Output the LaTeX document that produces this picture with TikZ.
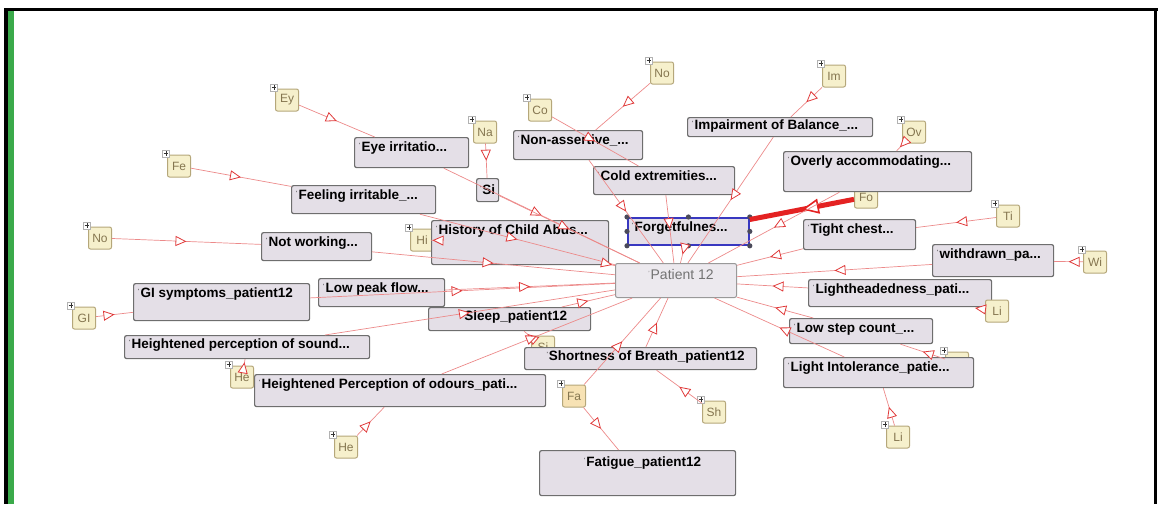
\documentclass[tikz,border=0pt]{standalone}
\usepackage{fontspec}
\setsansfont{Liberation Sans}
\usetikzlibrary{arrows.meta,decorations.markings}

\definecolor{indfill}{HTML}{E4DFE7}
\definecolor{indedge}{HTML}{6E6E6E}
\definecolor{tanfill}{HTML}{F6F0CC}
\definecolor{tanedge}{HTML}{B5A77A}
\definecolor{tantext}{HTML}{857650}
\definecolor{linkline}{HTML}{EC8A8A}
\definecolor{linktip}{HTML}{E03A3A}
\definecolor{hotred}{HTML}{E42222}
\definecolor{selblue}{HTML}{3838C0}
\definecolor{handlecol}{HTML}{4A4A5A}
\definecolor{frgreen}{HTML}{3AAA4A}

\newcommand{\lbltick}{\raisebox{4pt}{\fontsize{6}{6}\selectfont\mdseries'}\kern1pt}

\tikzset{
  ind/.style={draw=indedge, fill=indfill, line width=1.2pt, rounded corners=2pt,
    anchor=north west, inner sep=0pt},
  itxt/.style={anchor=north west, inner sep=0pt, xshift=5pt, yshift=-5pt,
    font=\sffamily\bfseries\fontsize{13.5}{14}\selectfont},
  ctxt/.style={itxt, anchor=north, xshift=0pt},
  tan/.style={draw=tanedge, fill=tanfill, line width=1pt, rounded corners=2pt,
    minimum width=23pt, minimum height=22pt, inner sep=0pt, text=tantext,
    font=\sffamily\fontsize{12}{12}\selectfont},
  plusbox/.style={draw=gray!60, fill=white, minimum size=7pt, inner sep=0pt,
    path picture={\draw[black!80, line width=0.5pt]
      ([yshift=-1.2pt]path picture bounding box.north) -- ([yshift=1.2pt]path picture bounding box.south)
      ([xshift=1.2pt]path picture bounding box.west) -- ([xshift=-1.2pt]path picture bounding box.east);}},
  isa/.style={draw=linkline, line width=0.7pt, postaction={decorate},
    decoration={markings, mark=at position 0.5 with
      {\arrow{Triangle[length=11pt, width=10pt, line width=0.8pt, color=linktip, fill=white]}}}},
  isaend/.style={draw=linkline, line width=0.7pt,
    -{Triangle[length=11pt, width=10pt, line width=0.8pt, color=linktip, fill=white]}},
  hot/.style={draw=hotred, line width=5pt, postaction={decorate},
    decoration={markings, mark=at position 0.5 with
      {\arrow{Triangle[length=17pt, width=15pt, line width=1.6pt, color=hotred, fill=white]}}}},
}

\begin{document}
\begin{tikzpicture}[x=1pt, y=-1pt]
  \useasboundingbox (0,0) rectangle (1158,504);

  % window frame
  \fill[black] (4,8) rectangle (1158,11);
  \fill[black] (4,8) rectangle (8,504);
  \fill[frgreen] (8,11) rectangle (14,504);
  \fill[black] (1154,8) rectangle (1157,504);

  % classes partly hidden under individuals
  \node[tan] (fo) at (866,197) {Fo};
  \node[tan] (lo) at (957,363) {};
  \node[tan] (si2) at (543,347) {Si};
  \node[tan] (hi) at (422,240) {Hi};

  % individuals
  \node[ind, minimum width=114pt, minimum height=30pt, label={[itxt]north west:\lbltick Eye irritatio...}] (eye) at (354,137) {};
  \node[ind, minimum width=144pt, minimum height=28pt, label={[itxt]north west:\lbltick Feeling irritable\_...}] (feel) at (291,185) {};
  \node[ind, minimum width=110pt, minimum height=28pt, label={[itxt]north west:\lbltick Not working...}] (notw) at (261,232) {};
  \node[ind, minimum width=176pt, minimum height=37pt, label={[itxt]north west:\lbltick GI symptoms\_patient12}] (gis) at (133,283) {};
  \node[ind, minimum width=126pt, minimum height=28pt, label={[itxt]north west:\lbltick Low peak flow...}] (lpf) at (318,278) {};
  \node[ind, minimum width=245pt, minimum height=23pt, label={[itxt, yshift=1pt]north west:\lbltick Heightened perception of sound...}] (snd) at (124,335) {};
  \node[ind, minimum width=291pt, minimum height=32pt, label={[itxt]north west:\lbltick Heightened Perception of odours\_pati...}] (odr) at (254,374) {};
  \node[ind, minimum width=162pt, minimum height=23pt, label={[ctxt, yshift=1pt]north:\lbltick Sleep\_patient12}] (slp) at (428,307) {};
  \node[ind, minimum width=232pt, minimum height=22pt, label={[ctxt, yshift=1pt]north:\lbltick Shortness of Breath\_patient12}] (sob) at (524,347) {};
  \node[ind, minimum width=196pt, minimum height=45pt, label={[ctxt, yshift=-2pt]north:\lbltick Fatigue\_patient12}] (fat) at (539,450) {};
  \node[ind, minimum width=177pt, minimum height=44pt, label={[itxt]north west:\lbltick History of Child Abus...}] (hist) at (431,220) {};
  \node[ind, minimum width=129pt, minimum height=29pt, label={[itxt]north west:\lbltick Non-assertive\_...}] (nas) at (513,130) {};
  \node[ind, minimum width=141pt, minimum height=28pt, label={[itxt]north west:\lbltick Cold extremities...}] (cold) at (593,166) {};
  \node[ind, minimum width=185pt, minimum height=19pt, label={[itxt, yshift=2pt]north west:\lbltick Impairment of Balance\_...}] (imp) at (687,117) {};
  \node[ind, minimum width=188pt, minimum height=40pt, label={[itxt]north west:\lbltick Overly accommodating...}] (ovr) at (783,151) {};
  \node[ind, minimum width=112pt, minimum height=30pt, label={[itxt]north west:\lbltick Tight chest...}] (tgt) at (803,219) {};
  \node[ind, minimum width=121pt, minimum height=32pt, label={[itxt]north west:\lbltick withdrawn\_pa...}] (wdr) at (932,244) {};
  \node[ind, minimum width=183pt, minimum height=27pt, label={[itxt]north west:\lbltick Lightheadedness\_pati...}] (lhd) at (808,279) {};
  \node[ind, minimum width=143pt, minimum height=25pt, label={[itxt]north west:\lbltick Low step count\_...}] (lsc) at (789,318) {};
  \node[ind, minimum width=190pt, minimum height=30pt, label={[itxt]north west:\lbltick Light Intolerance\_patie...}] (lin) at (783,357) {};
  \node[ind, minimum width=22pt, minimum height=23pt, font=\sffamily\bfseries\fontsize{13.5}{14}\selectfont] (si1) at (476,178) {\lbltick Si};

  % the selected one
  \node[ind, draw=selblue, line width=1.8pt, rounded corners=0pt, minimum width=121pt, minimum height=27pt,
    label={[itxt]north west:\lbltick Forgetfulnes...}] (forg) at (627,217) {};
  \foreach \a in {north west, north, north east, east, south east, south, south west, west}
    \fill[handlecol] (forg.\a) circle (2.6pt);

  \node[ind, draw=gray!80, fill=indfill!70, line width=1pt, minimum width=121pt, minimum height=34pt,
    label={[ctxt, yshift=-1pt, font=\sffamily\fontsize{14}{14}\selectfont, text=gray!90!black]north:\lbltick Patient 12}] (pat) at (615,263) {};

  % classes
  \node[tan] (ey) at (287,100) {Ey};
  \node[tan] (fe) at (179,166) {Fe};
  \node[tan] (nol) at (100,238) {No};
  \node[tan] (gl) at (84,318) {GI};
  \node[tan] (he1) at (242,377) {He};
  \node[tan] (he2) at (346,447) {He};
  \node[tan] (na) at (485,132) {Na};
  \node[tan] (co) at (540,110) {Co};
  \node[tan] (not) at (662,73) {No};
  \node[tan] (im) at (834,76) {Im};
  \node[tan] (ov) at (914,132) {Ov};
  \node[tan] (ti) at (1008,216) {Ti};
  \node[tan] (wi) at (1095,262) {Wi};
  \node[tan] (li1) at (997,311) {Li};
  \node[tan] (li2) at (898,437) {Li};
  \node[tan, fill=tanfill!80!orange!60!tanfill] (fa) at (574,396) {Fa};
  \node[tan] (sh) at (714,412) {Sh};

  \foreach \n in {ey, fe, nol, gl, he1, he2, na, co, not, im, ov, ti, wi, li2, lo, fa, sh, hi}
    \node[plusbox] at ([shift={(-1,-1)}]\n.north west) {};

  % class to individual
  \draw[isa] (ey) -- (eye);
  \draw[isa] (fe) -- (feel);
  \draw[isa] (nol) -- (notw);
  \draw[isa] (gl) -- (gis);
  \draw[isa] (he1) -- (snd);
  \draw[isa] (he2) -- (odr);
  \draw[isa] (na) -- (si1);
  \draw[isa] (co) -- (cold);
  \draw[isa] (not) -- (nas);
  \draw[isa] (im) -- (imp);
  \draw[isa] (ov) -- (ovr);
  \draw[isa] (ti) -- (tgt);
  \draw[isa] (wi) -- (wdr);
  \coordinate (lhdin) at (975,308);
  \draw[isaend] (li1) -- (lhdin);
  \draw[isa] (lo) -- (lsc);
  \draw[isa] (li2) -- (lin);
  \draw[isa] (fa) -- (fat);
  \draw[isa] (sh) -- (sob);
  \draw[isa] (si2) -- (slp);
  \draw[isa] (hi) -- (hist);
  \draw[hot] (fo) -- (forg);

  % individual to patient
  \foreach \n in {eye, feel, si1, notw, hist, nas, cold, forg, imp, ovr, tgt, wdr, lhd, lsc, lin,
      sob, slp, snd, odr, gis, lpf, fa}
    \draw[isa] (\n) -- (pat);
\end{tikzpicture}
\end{document}
